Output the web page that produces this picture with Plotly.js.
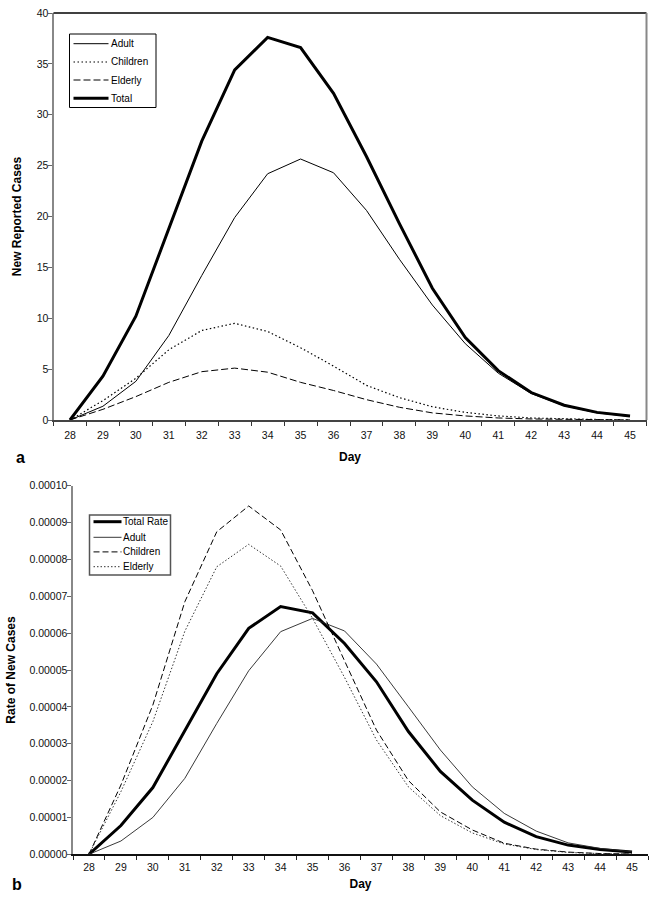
<!DOCTYPE html>
<html>
<head>
<meta charset="utf-8">
<script src="https://cdn.plot.ly/plotly-3.0.1.min.js"></script>
<style>html,body{margin:0;padding:0;background:#fff;}#chart{width:658px;height:908px;}</style>
</head>
<body>
<div id="chart"></div>
<script>
// Categories (days)
const days = ['28','29','30','31','32','33','34','35','36','37','38','39','40','41','42','43','44','45'];

// Panel a: new reported cases
const adultCases    = [0, 1.35, 3.8, 8.3, 14.2, 19.9, 24.2, 25.65, 24.3, 20.6, 15.8, 11.3, 7.5, 4.6, 2.6, 1.4, 0.7, 0.35];
const childrenCases = [0, 1.9, 4.1, 6.9, 8.8, 9.5, 8.7, 7.1, 5.3, 3.4, 2.2, 1.3, 0.75, 0.4, 0.2, 0.1, 0.05, 0.02];
const elderlyCases  = [0, 1.05, 2.3, 3.7, 4.75, 5.1, 4.7, 3.7, 2.9, 2.0, 1.25, 0.7, 0.4, 0.2, 0.1, 0.05, 0.02, 0.01];
const totalCases    = [0, 4.3, 10.2, 18.8, 27.4, 34.4, 37.6, 36.6, 32.1, 25.9, 19.3, 12.95, 8.1, 4.85, 2.7, 1.45, 0.75, 0.4];

// Panel b: rate of new cases
const totalRate    = [0, 0.0000078, 0.0000181, 0.0000335, 0.000049, 0.0000613, 0.0000672, 0.0000655, 0.0000572, 0.0000468, 0.0000333, 0.0000225, 0.0000147, 0.0000087, 0.0000048, 0.0000025, 0.0000013, 0.0000006];
const adultRate    = [0, 0.0000036, 0.00001, 0.0000206, 0.0000355, 0.0000498, 0.0000604, 0.000064, 0.0000606, 0.0000516, 0.00004, 0.0000283, 0.0000183, 0.0000111, 0.0000063, 0.0000031, 0.0000016, 0.0000007];
const childrenRate = [0, 0.0000188, 0.0000405, 0.0000685, 0.0000875, 0.0000945, 0.000088, 0.0000715, 0.0000525, 0.0000337, 0.00002, 0.0000115, 0.0000066, 0.000003, 0.0000014, 0.0000006, 0.0000002, 0.0000001];
const elderlyRate  = [0, 0.000017, 0.000036, 0.0000605, 0.000078, 0.0000841, 0.0000782, 0.000064, 0.000048, 0.000031, 0.0000183, 0.0000105, 0.0000058, 0.0000028, 0.0000013, 0.0000005, 0.0000002, 0.0000001];

// Series names (legend labels)
const namesA = ['Adult', 'Children', 'Elderly', 'Total'];
const namesB = ['Total Rate', 'Adult', 'Children', 'Elderly'];

const FONT = 'Liberation Sans, Arial, sans-serif';
const W = 658, H = 908;
const px = v => v / W;
const py = v => 1 - v / H;

const stylesA = [
  {color: '#000', width: 1},
  {color: '#000', width: 1.2, dash: '1.5px,2.5px'},
  {color: '#000', width: 1, dash: '7px,3px'},
  {color: '#000', width: 3}
];
const stylesB = [
  {color: '#000', width: 3},
  {color: '#222', width: 0.9},
  {color: '#000', width: 1, dash: '6px,3px'},
  {color: '#333', width: 1, dash: '1.5px,2px'}
];
const seriesA = [adultCases, childrenCases, elderlyCases, totalCases];
const seriesB = [totalRate, adultRate, childrenRate, elderlyRate];

const traces = [];
seriesA.forEach((s, i) => traces.push({x: days, y: s, name: namesA[i], type: 'scatter', mode: 'lines',
  xaxis: 'x', yaxis: 'y', line: stylesA[i], showlegend: false}));
seriesB.forEach((s, i) => traces.push({x: days, y: s, name: namesB[i], type: 'scatter', mode: 'lines',
  xaxis: 'x2', yaxis: 'y2', line: stylesB[i], showlegend: false}));

// Hand-built legends (boxes, samples, labels) to match the compact spacing of the original
const shapes = [
  {type: 'line', xref: 'x domain', yref: 'y domain', x0: 0, x1: 1, y0: 1, y1: 1, line: {color: '#000', width: 1.5}},
  {type: 'line', xref: 'x domain', yref: 'y domain', x0: 1, x1: 1, y0: 0, y1: 1, line: {color: '#888', width: 2}}
];
const annotations = [
  {text: '<b>a</b>', xref: 'paper', yref: 'paper', x: px(14), y: py(457), xanchor: 'left', yanchor: 'middle',
   showarrow: false, font: {family: FONT, size: 16, color: '#000'}},
  {text: '<b>b</b>', xref: 'paper', yref: 'paper', x: px(10), y: py(884), xanchor: 'left', yanchor: 'middle',
   showarrow: false, font: {family: FONT, size: 16, color: '#000'}}
];
function addLegend(box, rows, names, styles, sx0, sx1, tx, border) {
  shapes.push({type: 'rect', xref: 'paper', yref: 'paper', x0: px(box[0]), x1: px(box[1]), y0: py(box[2]), y1: py(box[3]),
    line: {color: border.color, width: border.width}, fillcolor: '#fff', layer: 'above'});
  names.forEach((n, i) => {
    shapes.push({type: 'line', xref: 'paper', yref: 'paper', x0: px(sx0), x1: px(sx1), y0: py(rows[i]), y1: py(rows[i]),
      line: Object.assign({}, styles[i]), layer: 'above'});
    annotations.push({text: n, xref: 'paper', yref: 'paper', x: px(tx), y: py(rows[i]), xanchor: 'left', yanchor: 'middle',
      showarrow: false, borderpad: 0, font: {family: FONT, size: 10, color: '#000'}});
  });
}
addLegend([69.5, 156, 34, 107.5], [43.7, 62, 80, 98.3], namesA, stylesA, 73.5, 108.5, 109.5, {color: '#000', width: 1});
addLegend([89.5, 170.5, 515, 575], [521.7, 537.3, 551.9, 566.7], namesB, stylesB, 93.5, 121.5, 121.5, {color: '#555', width: 1.5});

const layout = {
  width: W, height: H,
  margin: {l: 0, r: 0, t: 0, b: 0},
  paper_bgcolor: '#fff', plot_bgcolor: '#fff',
  font: {family: FONT, size: 10.5, color: '#000'},
  showlegend: false,
  xaxis: {
    domain: [px(53.5), px(646.5)], anchor: 'y', type: 'category',
    range: [-0.5, 17.5], tickson: 'boundaries', ticks: 'outside', ticklen: 4, tickwidth: 1, tickcolor: '#333',
    showline: true, linecolor: '#444', linewidth: 1.5, showgrid: false, zeroline: false, ticklabelstandoff: 5,
    tickfont: {family: FONT, size: 10.5, color: '#111'},
    title: {text: '<b>Day</b>', font: {family: FONT, size: 12}, standoff: 12}
  },
  yaxis: {
    domain: [py(420), py(13)], anchor: 'x',
    range: [0, 40], dtick: 5, ticks: 'outside', ticklen: 4, tickwidth: 1, tickcolor: '#666',
    showline: true, linecolor: '#888', linewidth: 2, showgrid: false, zeroline: false, ticklabelstandoff: -3,
    tickfont: {family: FONT, size: 10.5, color: '#111'},
    title: {text: '<b>New Reported Cases</b>', font: {family: FONT, size: 12}, standoff: 13}
  },
  xaxis2: {
    domain: [px(73), px(648)], anchor: 'y2', type: 'category',
    range: [-0.5, 17.5], tickson: 'boundaries', ticks: 'outside', ticklen: 4, tickwidth: 1, tickcolor: '#222',
    showline: true, linecolor: '#111', linewidth: 1.5, showgrid: false, zeroline: false, ticklabelstandoff: 3,
    tickfont: {family: FONT, size: 10.5, color: '#111'},
    title: {text: '<b>Day</b>', font: {family: FONT, size: 12}, standoff: 7}
  },
  yaxis2: {
    domain: [py(854.3), py(485.7)], anchor: 'x2',
    range: [0, 0.0001], dtick: 0.00001, tickformat: '.5f', ticks: 'outside', ticklen: 4, tickwidth: 1, tickcolor: '#666',
    showline: true, linecolor: '#888', linewidth: 2.5, showgrid: false, zeroline: false, ticklabelstandoff: -3,
    tickfont: {family: FONT, size: 10.5, color: '#111'},
    title: {text: '<b>Rate of New Cases</b>', font: {family: FONT, size: 12}, standoff: 11}
  },
  shapes: shapes,
  annotations: annotations
};

Plotly.newPlot('chart', traces, layout, {displayModeBar: false, staticPlot: true});
</script>
</body>
</html>
